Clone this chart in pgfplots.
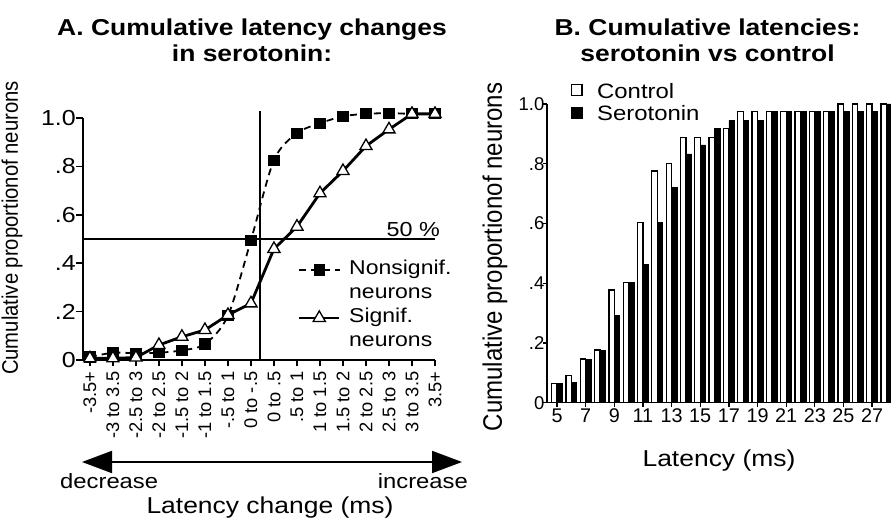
\documentclass[border=0pt]{standalone}
\usepackage{fontspec}
\setmainfont{Liberation Sans}[FakeStretch=1.15]
\newfontfamily\rotfont{Liberation Sans}
\newfontfamily\rotfontc{Liberation Sans}[FakeStretch=0.9]
\usepackage{pgfplots}
\usepackage{pgfplotstable}
\pgfplotsset{compat=1.18}
\usetikzlibrary{arrows.meta}
\newcommand\fs[1]{\fontsize{#1}{#1}\selectfont}

\pgfplotstableread{
lat ctrl sero
5 0.065 0.065
6 0.090 0.067
7 0.146 0.146
8 0.176 0.176
9 0.377 0.291
10 0.402 0.402
11 0.603 0.464
12 0.776 0.603
13 0.801 0.720
14 0.888 0.833
15 0.888 0.863
16 0.888 0.918
17 0.918 0.944
18 0.976 0.944
19 0.976 0.944
20 0.976 0.976
21 0.976 0.976
22 0.976 0.976
23 0.976 0.976
24 0.976 0.976
25 1.000 0.976
26 1.000 0.976
27 1.000 0.976
28 1.000 1.000
}\latdata

\pgfplotstableread{
idx nonsig sig
0 0.012 0.007
1 0.030 0.007
2 0.028 0.010
3 0.030 0.062
4 0.040 0.096
5 0.066 0.124
6 0.183 0.186
7 0.495 0.234
8 0.826 0.459
9 0.937 0.551
10 0.978 0.689
11 1.007 0.781
12 1.017 0.884
13 1.020 0.953
14 1.017 1.017
15 1.017 1.017
}\changedata

\begin{document}
\begin{tikzpicture}[x=1pt,y=1pt]
\useasboundingbox (0,0) rectangle (891,521);

% ---------------- Panel A ----------------
\begin{axis}[
  at={(83pt,161pt)}, anchor=south west,
  scale only axis, width=352pt, height=242pt,
  xmin=-0.3, xmax=15, ymin=0, ymax=1,
  axis lines=left, axis line style={-, line width=1.5pt},
  clip=false,
  xtick={0,1,...,15},
  xticklabels={-3.5+,-3 to 3.5,-2.5 to 3,-2 to 2.5,-1.5 to 2,-1 to 1.5,-.5 to 1,0 to -.5,0 to .5,.5 to 1,1 to 1.5,1.5 to 2,2 to 2.5,2.5 to 3,3 to 3.5,3.5+},
  xticklabel style={rotate=90, anchor=east, font=\rotfont\fs{18.3}, inner sep=5pt},
  ytick={0,0.2,0.4,0.6,0.8,1},
  yticklabels={0,.2,.4,.6,.8,1.0},
  yticklabel style={font=\fs{21.7}, inner sep=0.5pt},
  tick align=outside, major tick length=6.5pt,
  tick style={line width=1.5pt, black},
  legend cell align=left,
  legend style={at={(axis cs:9.04,0.421)}, anchor=north west, draw=none, fill=none,
    inner sep=0pt, outer sep=0pt, row sep=0pt, column sep=8.5pt,
    cells={anchor=base west},
    nodes={inner sep=0pt, text depth={}},
    font=\fontsize{20}{24}\selectfont},
  legend image code/.code={\draw[mark repeat=2,mark phase=2,#1] plot coordinates {(0pt,5pt)(20pt,5pt)(40pt,5pt)};},
]
\draw[line width=1.5pt] (axis cs:-0.3,0.5) -- (axis cs:15,0.5);
\draw[line width=1.5pt] (axis cs:7.4,0) -- (axis cs:7.4,1.03);
\addplot[black, line width=1.8pt, dash pattern=on 7pt off 5pt, smooth,
  mark=square*, mark size=4.7pt, mark options={solid, fill=black}]
  table[x=idx, y=nonsig] {\changedata};
\addlegendentry{\begin{tabular}[t]{@{}l@{}}Nonsignif.\\neurons\end{tabular}}
\addplot[black, line width=2.8pt,
  mark=triangle*, mark size=7pt, mark options={solid, fill=white, line width=1.3pt}]
  table[x=idx, y=sig] {\changedata};
\addlegendentry{\begin{tabular}[t]{@{}l@{}}Signif.\\neurons\end{tabular}}
\end{axis}

\node[align=center, font=\bfseries\fontsize{23}{26}\selectfont] at (252,481)
  {A. Cumulative latency changes\\in serotonin:};
\node[rotate=90, font=\rotfontc\fs{22.5}] at (12,293) {Cumulative proportionof neurons};
\draw[line width=2pt, {Triangle[length=30pt,width=22pt]}-{Triangle[length=30pt,width=22pt]}] (82,59) -- (462,59);
\node[anchor=base west, inner sep=0pt, font=\fs{20.7}] at (60,32.7) {decrease};
\node[anchor=base east, inner sep=0pt, font=\fs{20.7}] at (468,32.7) {increase};
\node[anchor=base, inner sep=0pt, font=\fs{23}] at (270,7.7) {Latency change (ms)};
\node[anchor=base east, inner sep=0pt, font=\fs{20.3}] at (440,284.3) {50 \%};

% ---------------- Panel B ----------------
\begin{axis}[
  at={(547pt,118.3pt)}, anchor=south west,
  scale only axis, width=344pt, height=298.7pt,
  xmin=4.3, xmax=28.32, ymin=0, ymax=1,
  axis lines=left, axis line style={-, line width=1.5pt},
  clip=false,
  xtick={5,7,...,27},
  ytick={0,0.2,0.4,0.6,0.8,1},
  yticklabels={0,.2,.4,.6,.8,1.0},
  /pgf/number format/assume math mode=true,
  xticklabel style={font=\rotfont\fs{19.8}, inner sep=1.5pt},
  yticklabel style={font=\rotfont\fs{18.5}, inner sep=0pt, xshift=2pt},
  tick align=outside, major tick length=4.5pt,
  tick style={line width=1.3pt, black},
  legend cell align=left,
  legend style={at={(axis cs:5.976,1.070)}, anchor=north west, draw=none, fill=none,
    inner sep=0pt, outer sep=0pt, row sep=7.7pt, column sep=14.5pt,
    cells={anchor=base west},
    nodes={inner sep=0pt, text height=15pt, text depth=0pt},
    font=\fs{20.8}},
  legend image code/.code={\draw[#1, line width=1.3pt] (0.65pt,2.9pt) rectangle (11pt,13.4pt);},
]
\addplot[ybar, bar width=0.38, bar shift=-0.19, draw=black, fill=white, line width=1.3pt]
  table[x=lat, y=ctrl] {\latdata};
\addlegendentry{Control}
\addplot[ybar, bar width=0.38, bar shift=0.19, draw=black, fill=black, line width=0.6pt]
  table[x=lat, y=sero] {\latdata};
\addlegendentry{Serotonin}
\end{axis}

\node[align=center, font=\bfseries\fontsize{23}{26}\selectfont] at (707.5,481)
  {B. Cumulative latencies:\\serotonin vs control};
\node[rotate=90, font=\rotfontc\fs{26.7}] at (495,264) {Cumulative proportionof neurons};
\node[anchor=base, inner sep=0pt, font=\fs{23}] at (719,54.3) {Latency (ms)};
\end{tikzpicture}
\end{document}
